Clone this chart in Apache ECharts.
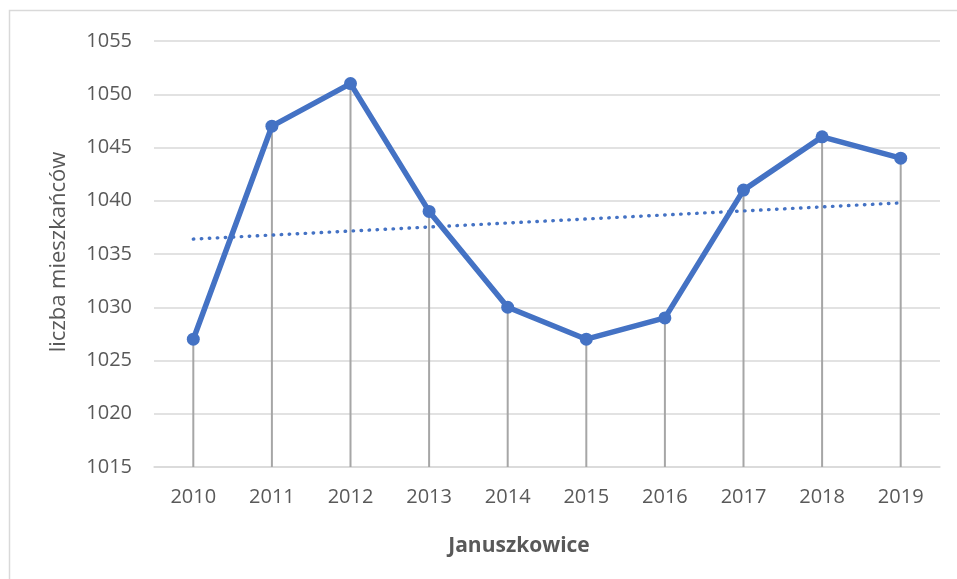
<!DOCTYPE html>
<html>
<head>
<meta charset="utf-8">
<script src="https://cdn.jsdelivr.net/npm/echarts@6/dist/echarts.min.js"></script>
<style>
html,body{margin:0;padding:0;background:#fff;}
#chart{width:957px;height:579px;}
</style>
</head>
<body>
<div id="chart"></div>
<script>
const categories = ['2010','2011','2012','2013','2014','2015','2016','2017','2018','2019'];
const population = [1027, 1047, 1051, 1039, 1030, 1027, 1029, 1041, 1046, 1044];
const trendStart = 1036.4;
const trendEnd = 1039.8;
const yTicks = [1015, 1020, 1025, 1030, 1035, 1040, 1045, 1050, 1055];
const yAxisTitle = 'liczba mieszkańców';
const xAxisTitle = 'Januszkowice';

const trendData = categories.map((c, i) => i === 0 ? trendStart : (i === categories.length - 1 ? trendEnd : '-'));
const yMin = yTicks[0];

const FONT = 'Open Sans';
const chart = echarts.init(document.getElementById('chart'), null, {renderer: 'canvas'});
chart.setOption({
  animation: false,
  backgroundColor: '#ffffff',
  graphic: [{
    type: 'rect',
    shape: {x: 9.5, y: 10.5, width: 1000, height: 1000},
    style: {fill: 'none', stroke: '#d9d9d9', lineWidth: 1.5},
    z: -10
  }, {
    type: 'text',
    x: 59, y: 252,
    rotation: Math.PI / 2,
    style: {
      text: yAxisTitle,
      fontFamily: FONT, fontSize: 22, fill: '#595959',
      align: 'center', verticalAlign: 'middle'
    }
  }],
  title: {
    text: xAxisTitle,
    left: 514, top: 531,
    textAlign: 'center',
    textStyle: {fontFamily: FONT, fontSize: 21, fontWeight: 'bold', color: '#595959'}
  },
  grid: {left: 154, right: 17, top: 41, bottom: 112, containLabel: false},
  xAxis: {
    type: 'category',
    data: categories,
    boundaryGap: true,
    axisLine: {show: true, lineStyle: {color: '#d9d9d9', width: 1.5}},
    axisTick: {show: false},
    axisLabel: {fontFamily: FONT, fontSize: 20, color: '#595959', margin: 20}
  },
  yAxis: {
    type: 'value',
    min: yTicks[0], max: yTicks[yTicks.length - 1], interval: 5,
    axisLine: {show: false},
    axisTick: {show: false},
    axisLabel: {fontFamily: FONT, fontSize: 20, color: '#595959', margin: 22, formatter: v => String(v)},
    splitLine: {lineStyle: {color: '#d9d9d9', width: 1.5}}
  },
  series: [
    {
      type: 'custom',
      z: 1,
      data: population.map((v, i) => [i, v]),
      renderItem: function (params, api) {
        const top = api.coord([api.value(0), api.value(1)]);
        const bot = api.coord([api.value(0), yMin]);
        return {
          type: 'line',
          shape: {x1: top[0], y1: top[1], x2: bot[0], y2: bot[1]},
          style: {stroke: '#a6a6a6', lineWidth: 2}
        };
      }
    },
    {
      type: 'line',
      z: 3,
      data: trendData,
      connectNulls: true,
      symbol: 'none',
      lineStyle: {color: '#4472c4', width: 3.4, type: [0.5, 7.5], cap: 'round'}
    },
    {
      type: 'line',
      z: 4,
      data: population,
      symbol: 'circle',
      symbolSize: 13,
      itemStyle: {color: '#4472c4'},
      lineStyle: {color: '#4472c4', width: 5.5, join: 'round'}
    }
  ]
});
</script>
</body>
</html>
